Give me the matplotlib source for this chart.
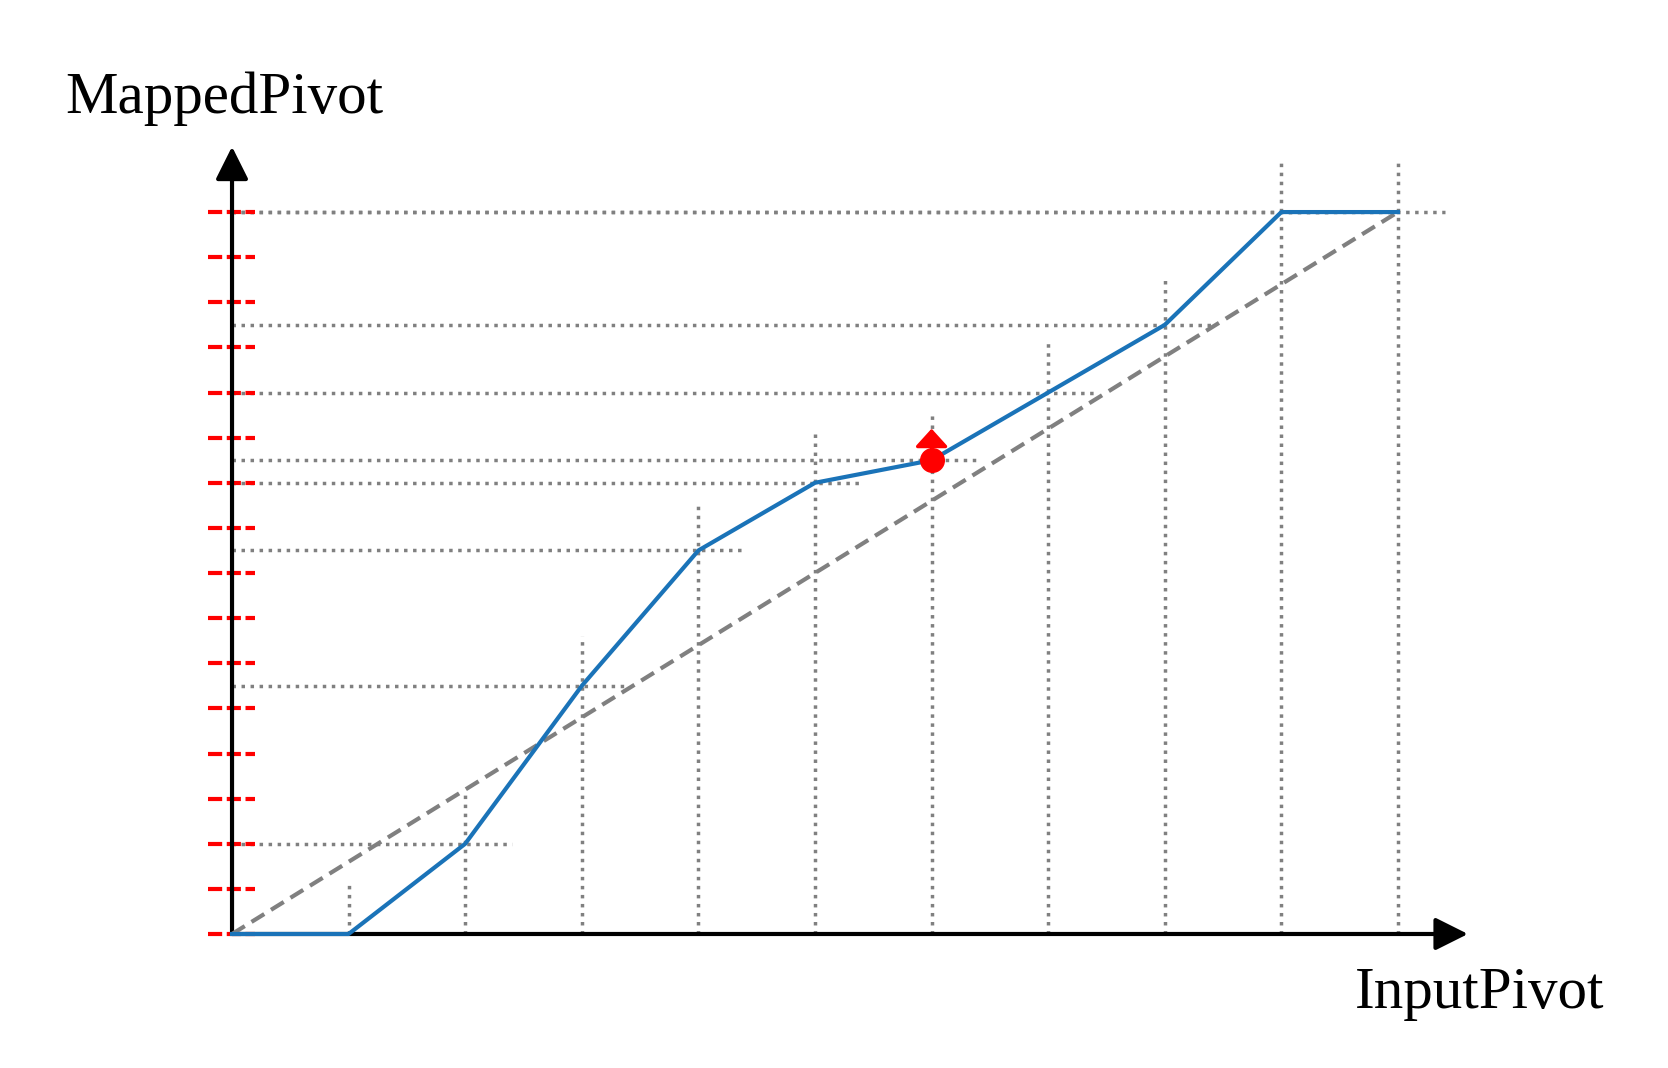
import matplotlib.pyplot as plt

# pivot data
input_pivot = [0, 1, 2, 3, 4, 5, 6, 7, 8, 9, 10]
mapped_pivot = [0, 0, 2, 5.5, 8.5, 10, 10.5, 12, 13.5, 16, 16]
y_ticks = list(range(0, 17))
moved_index = 6
moved_target = 11.2

GRAY = '#808080'
BLUE = '#1a73b8'


def draw_guides(ax):
    for x, y in zip(input_pivot, mapped_pivot):
        if x > 0:
            ax.plot([x, x], [0, y + 1.1], color=GRAY, lw=2.5,
                    linestyle=(0, (1, 1.6)), zorder=1)
        if y > 0:
            ax.plot([0, x + 0.4], [y, y], color=GRAY, lw=2.5,
                    linestyle=(0, (1, 1.6)), zorder=1)


def draw_axes(ax):
    for t in y_ticks:
        ax.plot([-0.206, 0.2], [t, t], color='red', lw=3,
                linestyle=(0, (3.4, 1.1)), solid_capstyle='butt', zorder=2)
    arrow = dict(arrowstyle='-|>,head_length=1.0,head_width=0.5',
                 color='black', lw=3, mutation_scale=20,
                 shrinkA=0, shrinkB=0)
    ax.annotate('', xy=(0, 17.45), xytext=(0, 0), arrowprops=arrow, zorder=3)
    ax.annotate('', xy=(10.6, 0), xytext=(0, 0), arrowprops=arrow, zorder=3)


def main():
    fig = plt.figure(figsize=(16.68, 10.68), dpi=100)
    ax = fig.add_axes([0, 0, 1, 1])
    ax.set_xlim(-1.99, 12.316)
    ax.set_ylim(-2.97, 20.70)
    ax.axis('off')

    draw_guides(ax)
    draw_axes(ax)

    ax.plot([input_pivot[0], input_pivot[-1]], [mapped_pivot[0], mapped_pivot[-1]],
            color=GRAY, lw=3, linestyle=(0, (3.6, 1.9)), zorder=4)
    ax.plot(input_pivot, mapped_pivot, color=BLUE, lw=3, zorder=5)

    mx, my = input_pivot[moved_index], mapped_pivot[moved_index]
    ax.annotate('', xy=(mx, moved_target), xytext=(mx, my),
                arrowprops=dict(arrowstyle='-|>,head_length=0.55,head_width=0.5',
                                color='red', lw=2.5, mutation_scale=20,
                                shrinkA=0, shrinkB=0), zorder=6)
    ax.plot([mx], [my], 'o', color='red', markersize=17, zorder=7)

    font = dict(family='Liberation Serif', fontsize=42.5, color='black')
    ax.text(-1.432, 18.2, 'MappedPivot', ha='left', va='baseline', **font)
    ax.text(9.63, -1.64, 'InputPivot', ha='left', va='baseline', **font)

    fig.savefig('out.png', dpi=100)


if __name__ == "__main__":
    main()
